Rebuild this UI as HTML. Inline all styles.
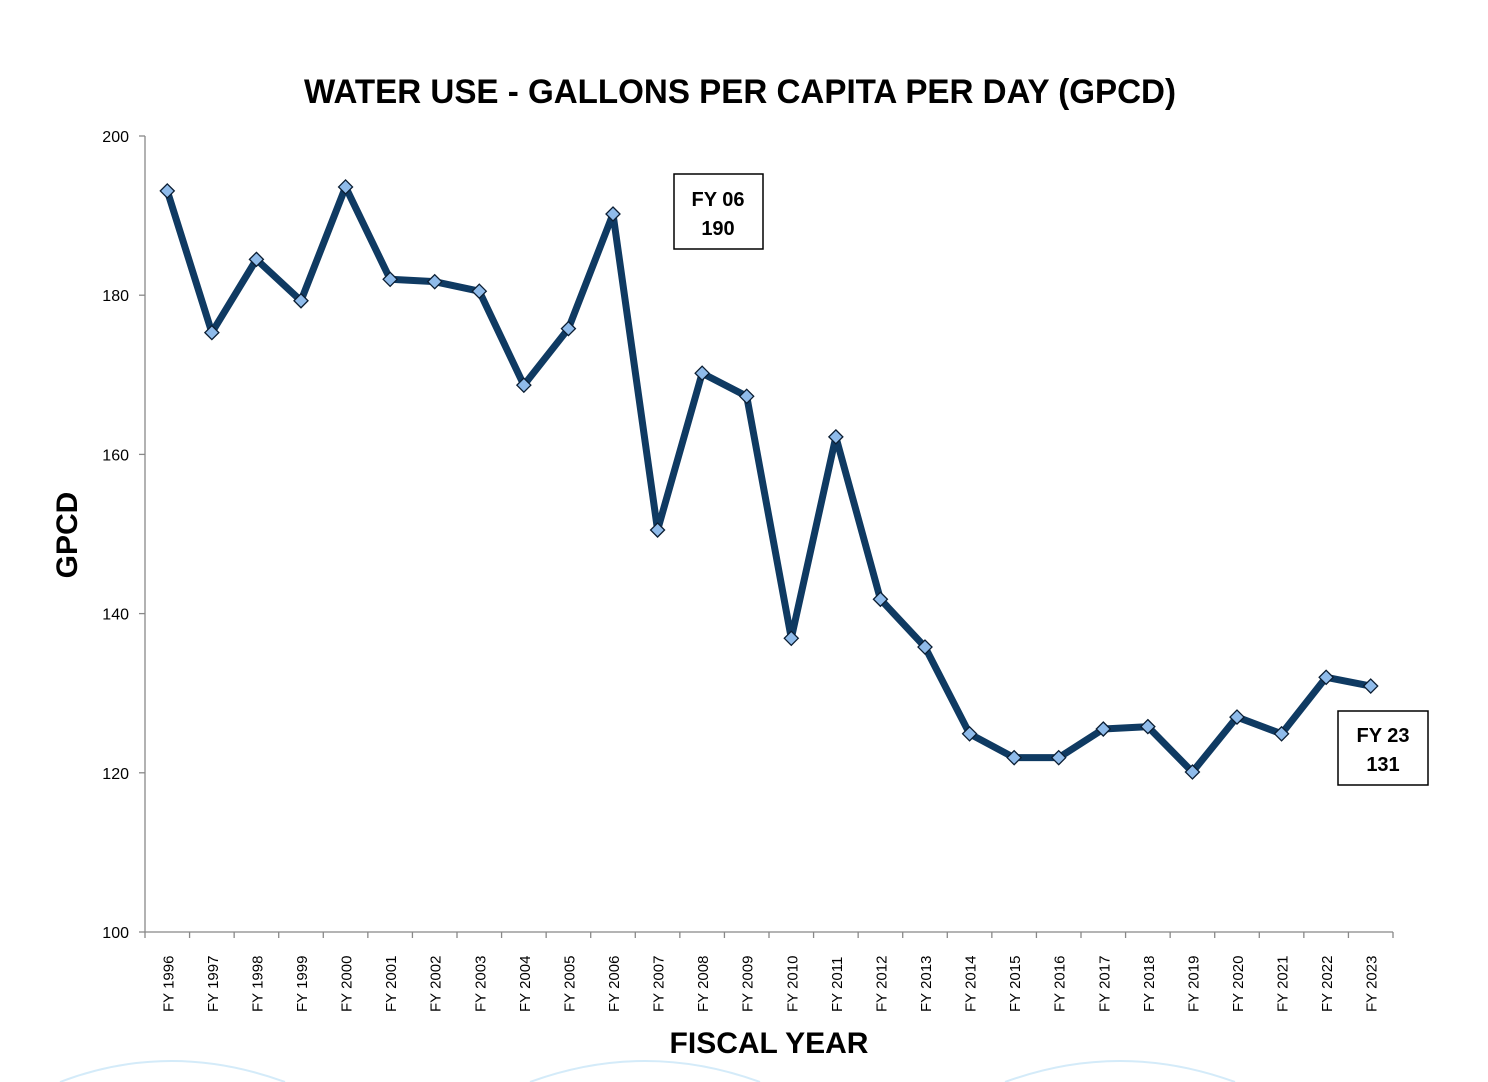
<!DOCTYPE html>
<html><head><meta charset="utf-8"><style>
html,body{margin:0;padding:0;background:#fff;width:1488px;height:1082px;overflow:hidden}
svg{display:block;font-family:"Liberation Sans",sans-serif}
</style></head><body>
<svg id="chart" width="1488" height="1082" viewBox="0 0 1488 1082">
<g fill="none" stroke="#d4ebf9" stroke-width="2">
<path d="M60,1082 Q170,1040 285,1082"/><path d="M530,1082 Q645,1040 760,1082"/><path d="M1005,1082 Q1120,1040 1235,1082"/>
</g>
<text x="740" y="103" text-anchor="middle" font-size="34" font-weight="bold" fill="#000" textLength="872" lengthAdjust="spacingAndGlyphs">WATER USE - GALLONS PER CAPITA PER DAY (GPCD)</text>
<text transform="translate(77,535) rotate(-90)" text-anchor="middle" font-size="30" font-weight="bold">GPCD</text>
<text x="769" y="1053" text-anchor="middle" font-size="30" font-weight="bold">FISCAL YEAR</text>
<g id="axes"></g>
<g id="marks"></g>
<g>
<rect x="674" y="174" width="89" height="75" fill="#fff" stroke="#000" stroke-width="1.5"/>
<text x="718" y="206" text-anchor="middle" font-size="20" font-weight="bold">FY 06</text>
<text x="718" y="235" text-anchor="middle" font-size="20" font-weight="bold">190</text>
</g>
<g>
<rect x="1338" y="711" width="90" height="74" fill="#fff" stroke="#000" stroke-width="1.5"/>
<text x="1383" y="742" text-anchor="middle" font-size="20" font-weight="bold">FY 23</text>
<text x="1383" y="771" text-anchor="middle" font-size="20" font-weight="bold">131</text>
</g>
</svg>
<script>
const categories=[1996,1997,1998,1999,2000,2001,2002,2003,2004,2005,2006,2007,2008,2009,2010,2011,2012,2013,2014,2015,2016,2017,2018,2019,2020,2021,2022,2023];
const gpcdValues=[193.1,175.3,184.5,179.3,193.6,182.0,181.7,180.5,168.7,175.8,190.2,150.5,170.2,167.3,136.9,162.2,141.8,135.8,124.9,121.9,121.9,125.5,125.8,120.1,127.0,124.9,132.0,130.9];
const yTicks=[100,120,140,160,180,200];
const NS="http://www.w3.org/2000/svg";
const X0=145,X1=1393,Y0=932,Y1=136,ymin=100,ymax=200;
const bw=(X1-X0)/categories.length;
function xs(i){return X0+bw*(i+0.5);}
function ys(v){return Y0-(v-ymin)/(ymax-ymin)*(Y0-Y1);}
function mk(tag,attrs,parent){const e=document.createElementNS(NS,tag);for(const k in attrs)e.setAttribute(k,attrs[k]);parent.appendChild(e);return e;}
const axes=document.getElementById('axes'),marks=document.getElementById('marks');
const ya=mk('line',{x1:X0,x2:X0,y1:Y1,y2:Y0,stroke:'#888','stroke-width':1.3},axes);


const xa=mk('line',{x1:X0,x2:X1,y1:Y0,y2:Y0,stroke:'#888','stroke-width':1.3},axes);


yTicks.forEach(t=>{
  mk('line',{x1:X0-6,x2:X0,y1:ys(t),y2:ys(t),stroke:'#888','stroke-width':1.3},axes);
  const tx=mk('text',{x:X0-16,y:ys(t)+6,'text-anchor':'end','font-size':16,fill:'#000'},axes);
  tx.textContent=t;
  
  
});
for(let i=0;i<=categories.length;i++){mk('line',{x1:X0+bw*i,x2:X0+bw*i,y1:Y0,y2:Y0+6,stroke:'#888','stroke-width':1.3},axes);}
categories.forEach((c,i)=>{
  const tx=mk('text',{transform:`translate(${xs(i)+6},${Y0+80}) rotate(-90)`,'font-size':15,fill:'#000'},axes);
  tx.textContent='FY '+c;
  
  
});
const pts=gpcdValues.map((v,i)=>xs(i)+','+ys(v)).join(' ');
const line=mk('polyline',{points:pts,fill:'none',stroke:'#0f3a62','stroke-width':7,'stroke-linejoin':'round'},marks);


gpcdValues.forEach((v,i)=>{
  const x=xs(i),y=ys(v),r=7;
  const p=mk('polygon',{points:`${x},${y-r} ${x+r},${y} ${x},${y+r} ${x-r},${y}`,fill:'#8fbbea',stroke:'#0b1e33','stroke-width':1.3},marks);
  
  
});
</script>
</body></html>
